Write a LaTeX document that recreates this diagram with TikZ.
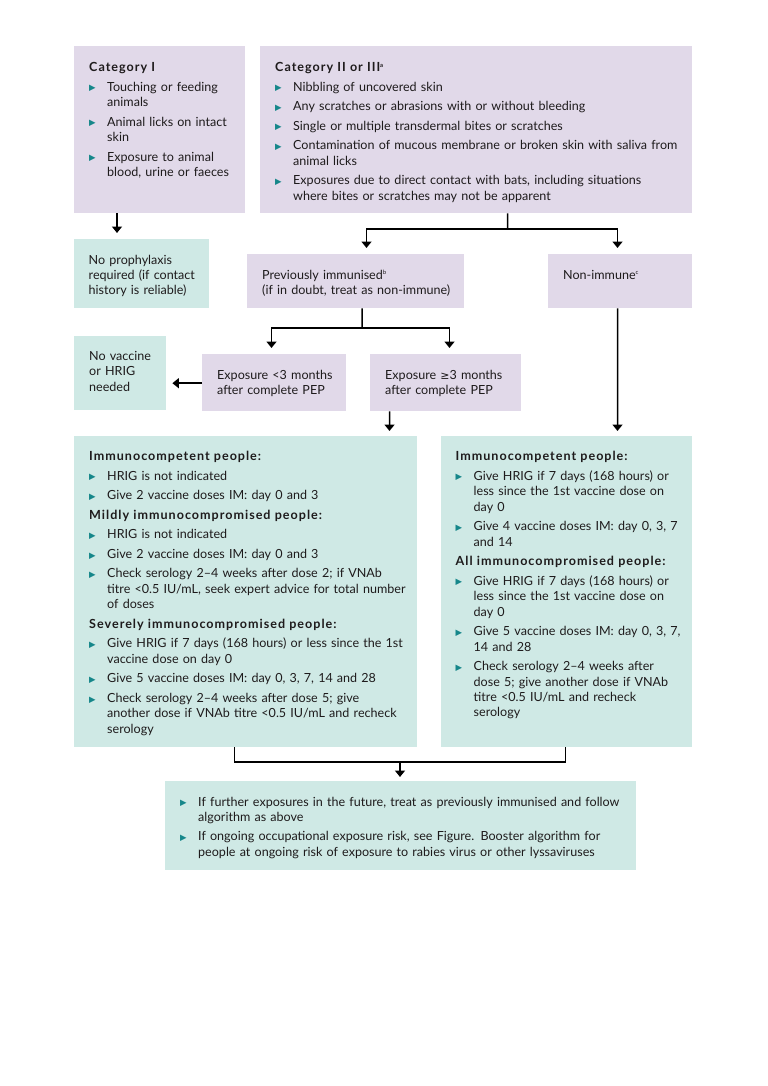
\documentclass[tikz,border=0pt]{standalone}
\usepackage{fontspec}
\setmainfont{Lato}
\newfontfamily\symf{DejaVu Sans}
\usetikzlibrary{arrows.meta,calc}
\definecolor{lav}{HTML}{E1D9E9}
\definecolor{mint}{HTML}{CFE9E5}
\definecolor{bulc}{HTML}{16878A}
\definecolor{ink}{HTML}{1E1B1C}
\newlength\hi \setlength\hi{18bp}
\newlength\isep \setlength\isep{4.1bp}
\newcommand\bul{{\color{bulc}\symf\fontsize{8.5}{8.5}\selectfont ▶}}
\newcommand\itm[1]{\noindent\hangindent=\hi\hangafter=1\makebox[\hi][l]{\raisebox{0.4bp}{\bul}}#1\par\vspace{\isep}}
\newcommand\hd[1]{\noindent{\bfseries\addfontfeature{LetterSpace=8}#1}\par\vspace{\isep}}
\newcommand\sups[1]{\textsuperscript{\fontsize{6}{6}\selectfont #1}}
\begin{document}
\begin{tikzpicture}[x=1bp,y=-1bp,
  lavbox/.style={draw=none,fill=lav,inner sep=0,anchor=north west},
  mintbox/.style={draw=none,fill=mint,inner sep=0,anchor=north west},
  txt/.style={inner sep=0,anchor=base west,align=left,text=ink,
    font=\fontsize{12.6}{15.5}\selectfont},
  line/.style={line width=1.5bp,draw=black},
  arr/.style={line width=1.5bp,draw=black,-{Triangle[length=6.5bp,width=10bp]}}]
\useasboundingbox (0,0) rectangle (768,1086);
\fill[white] (0,0) rectangle (768,1086);
% boxes
\node[lavbox,minimum width=171bp,minimum height=167bp] (c1) at (74,46) {};
\node[lavbox,minimum width=432bp,minimum height=167bp] (c2) at (260,46) {};
\node[mintbox,minimum width=135bp,minimum height=69bp] (nop) at (74,239) {};
\node[lavbox,minimum width=217bp,minimum height=54bp] (prev) at (247,254) {};
\node[lavbox,minimum width=144bp,minimum height=54bp] (nonimm) at (548,254) {};
\node[mintbox,minimum width=92bp,minimum height=74bp] (novac) at (74,336) {};
\node[lavbox,minimum width=144bp,minimum height=57bp] (e1) at (202,354) {};
\node[lavbox,minimum width=151bp,minimum height=57bp] (e2) at (370,354) {};
\node[mintbox,minimum width=343bp,minimum height=311bp] (bigL) at (74,436) {};
\node[mintbox,minimum width=251bp,minimum height=311bp] (bigR) at (441,436) {};
\node[mintbox,minimum width=471bp,minimum height=89bp] (fin) at (165,781) {};
% texts
\node[txt,text width=165bp] (t1) at (89,71.7) {%
\hd{Category I}
\itm{Touching or feeding\newline animals}
\itm{Animal licks on intact\newline skin}
\itm{Exposure to animal\newline blood, urine or faeces}};
\node[txt,text width=430bp] (t2) at (275,71.7) {%
\hd{Category II or III\sups{a}}
\itm{Nibbling of uncovered skin}
\itm{Any scratches or abrasions with or without bleeding}
\itm{Single or multiple transdermal bites or scratches}
\itm{Contamination of mucous membrane or broken skin with saliva from\newline animal licks}
\itm{Exposures due to direct contact with bats, including situations\newline where bites or scratches may not be apparent}};
\node[txt,text width=140bp] (t3) at (88.5,264) {No prophylaxis\\required (if contact\\history is reliable)};
\node[txt,text width=230bp] (t4) at (262,279) {Previously immunised\sups{b}\\(if in doubt, treat as non-immune)};
\node[txt,text width=140bp] (t5) at (563,279) {Non-immune\sups{c}};
\node[txt,text width=90bp] (t6) at (89,360.5) {No vaccine\\or HRIG\\needed};
\node[txt,text width=150bp] (t7) at (217,379) {Exposure <3 months\\after complete PEP};
\node[txt,text width=150bp] (t8) at (385,379) {Exposure {\symf\fontsize{11}{11}\selectfont ≥}3 months\\after complete PEP};
\node[txt,text width=345bp] (t9) at (89,460.7) {%
\hd{Immunocompetent people:}
\itm{HRIG is not indicated}
\itm{Give 2 vaccine doses IM: day 0 and 3}
\hd{Mildly immunocompromised people:}
\itm{HRIG is not indicated}
\itm{Give 2 vaccine doses IM: day 0 and 3}
\itm{Check serology 2–4 weeks after dose 2; if VNAb\newline titre <0.5 IU/mL, seek expert advice for total number\newline of doses}
\hd{Severely immunocompromised people:}
\itm{Give HRIG if 7 days (168 hours) or less since the 1st\newline vaccine dose on day 0}
\itm{Give 5 vaccine doses IM: day 0, 3, 7, 14 and 28}
\itm{Check serology 2–4 weeks after dose 5; give\newline another dose if VNAb titre <0.5 IU/mL and recheck\newline serology}};
\node[txt,text width=260bp] (t10) at (455.5,460.7) {%
\hd{Immunocompetent people:}
\itm{Give HRIG if 7 days (168 hours) or\newline less since the 1st vaccine dose on\newline day 0}
\itm{Give 4 vaccine doses IM: day 0, 3, 7\newline and 14}
\hd{All immunocompromised people:}
\itm{Give HRIG if 7 days (168 hours) or\newline less since the 1st vaccine dose on\newline day 0}
\itm{Give 5 vaccine doses IM: day 0, 3, 7,\newline 14 and 28}
\itm{Check serology 2–4 weeks after\newline dose 5; give another dose if VNAb\newline titre <0.5 IU/mL and recheck\newline serology}};
\node[txt,text width=480bp] (t11) at (180,806) {%
\itm{If further exposures in the future, treat as previously immunised and follow\newline algorithm as above}
\itm{If ongoing occupational exposure risk, see Figure. Booster algorithm for\newline people at ongoing risk of exposure to rabies virus or other lyssaviruses}};
% connectors
\coordinate (j1) at (507.5,229);
\coordinate (j2) at (362,328);
\coordinate (j3) at (400,762);
\draw[arr,shorten >=6bp] ([xshift=43bp]c1.south west) -- ([xshift=43bp]nop.north west);
\draw[line] ([xshift=247.5bp]c2.south west) -- (j1);
\draw[arr,shorten >=6bp] (j1) -| ([xshift=119.5bp]prev.north west);
\draw[arr,shorten >=6bp] (j1) -| ([xshift=69.5bp]nonimm.north west);
\draw[line] ([xshift=115bp]prev.south west) -- (j2);
\draw[arr,shorten >=6bp] (j2) -| ([xshift=69.5bp]e1.north west);
\draw[arr,shorten >=6bp] (j2) -| ([xshift=79.5bp]e2.north west);
\draw[arr,shorten >=6bp] ([yshift=-0.5bp]e1.west) -- ([yshift=-0.5bp]e1.west -| novac.east);
\draw[arr,shorten >=5bp] ([xshift=19.5bp]e2.south west) -- ([xshift=315.5bp]bigL.north west);
\draw[arr,shorten >=5bp] ([xshift=69.5bp]nonimm.south west) -- ([xshift=176.5bp]bigR.north west);
\draw[line] ([xshift=160.5bp]bigL.south west) |- (j3);
\draw[line] ([xshift=124.5bp]bigR.south west) |- (j3);
\draw[arr,shorten >=4bp] (j3) -- (j3 |- fin.north);
\end{tikzpicture}
\end{document}
